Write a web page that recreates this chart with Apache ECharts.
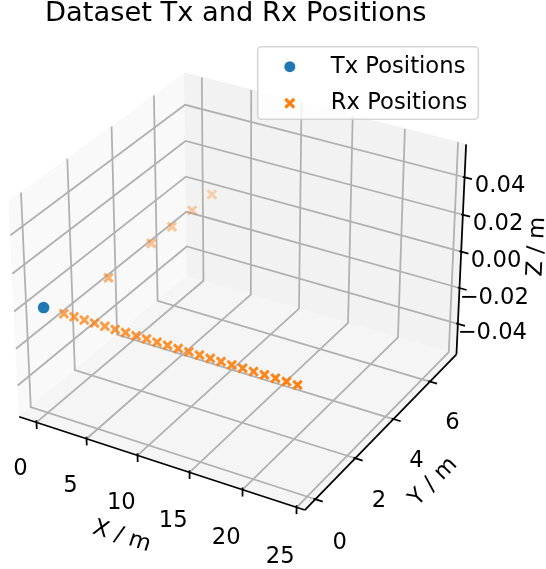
<!DOCTYPE html>
<html>
<head>
<meta charset="utf-8">
<script src="https://cdn.jsdelivr.net/npm/echarts@6/dist/echarts.min.js"></script>
<style>
  html, body { margin: 0; padding: 0; background: #fff; }
  #chart { width: 546px; height: 569px; }
</style>
</head>
<body>
<div id="chart"></div>
<script>
// ---- data ----
var txX = [0];
var txY = [0];
var txZ = [0];
var rxX = [2, 3, 4, 5, 6, 7, 8, 9, 10, 11, 12, 13, 14, 15, 16, 17, 18, 19, 20, 21, 22, 23, 24, 2, 2, 2, 2, 2];
var rxY = [0, 0, 0, 0, 0, 0, 0, 0, 0, 0, 0, 0, 0, 0, 0, 0, 0, 0, 0, 0, 0, 0, 0, 2, 4, 5, 6, 7];
var rxZ = [0, 0, 0, 0, 0, 0, 0, 0, 0, 0, 0, 0, 0, 0, 0, 0, 0, 0, 0, 0, 0, 0, 0, 0, 0, 0, 0, 0];

var xTicks = [0, 5, 10, 15, 20, 25];
var yTicks = [0, 2, 4, 6];
var zTicks = [-0.04, -0.02, 0, 0.02, 0.04];
var xTickLabels = ['0', '5', '10', '15', '20', '25'];
var yTickLabels = ['0', '2', '4', '6'];
var zTickLabels = ['\u22120.04', '\u22120.02', '0.00', '0.02', '0.04'];

// axis limits (autoscaled limits incl. margins)
var xLim = [-1.75, 25.75];
var yLim = [-0.5104, 7.5104];
var zLim = [-0.0573, 0.0573];

// ---- 3d view (elev 30, azim -60, perspective) ----
var D2R = Math.PI / 180;
var elev = 30 * D2R, azim = -60 * D2R, dist = 10;
var boxNorm = Math.sqrt(4 * 4 + 4 * 4 + 3 * 3);
var box = [4, 4, 3].map(function (a) { return a * 1.8294640721620434 * 25 / 24 / boxNorm; });

function dot(a, b) { return a[0] * b[0] + a[1] * b[1] + a[2] * b[2]; }
function cross(a, b) {
  return [a[1] * b[2] - a[2] * b[1], a[2] * b[0] - a[0] * b[2], a[0] * b[1] - a[1] * b[0]];
}
var viewW = [Math.cos(elev) * Math.cos(azim), Math.cos(elev) * Math.sin(azim), Math.sin(elev)];
var viewU = cross([0, 0, 1], viewW);
var uLen = Math.sqrt(dot(viewU, viewU));
viewU = viewU.map(function (c) { return c / uLen; });
var viewV = cross(viewW, viewU);

function project(x, y, z) {
  var p = [
    ((x - xLim[0]) / (xLim[1] - xLim[0]) - 0.5) * box[0],
    ((y - yLim[0]) / (yLim[1] - yLim[0]) - 0.5) * box[1],
    ((z - zLim[0]) / (zLim[1] - zLim[0]) - 0.5) * box[2]
  ];
  var depth = dist - dot(p, viewW);
  return [dot(p, viewU) / depth, dot(p, viewV) / depth, depth];
}
function pt(x, y, z) { var q = project(x, y, z); return [q[0], q[1]]; }

// 2d window of the 3d axes, placed on the page
var viewLim = [-0.095, 0.09];
var axBox = { left: -19.2, top: 33.7, size: 508.4 };
var W = 546, H = 569;
var perPx = (viewLim[1] - viewLim[0]) / axBox.size;
var xAxisMin = viewLim[0] - axBox.left * perPx;
var xAxisMax = xAxisMin + W * perPx;
var yAxisMax = viewLim[1] + axBox.top * perPx;
var yAxisMin = yAxisMax - H * perPx;

var x0 = xLim[0], x1 = xLim[1], y0 = yLim[0], y1 = yLim[1], z0 = zLim[0], z1 = zLim[1];
var xr = x1 - x0, yr = y1 - y0, zr = z1 - z0;

// panes
var panes = [
  { color: 'rgb(249,249,249)', pts: [pt(x0, y0, z0), pt(x0, y1, z0), pt(x0, y1, z1), pt(x0, y0, z1)] },
  { color: 'rgb(242,242,242)', pts: [pt(x0, y1, z0), pt(x1, y1, z0), pt(x1, y1, z1), pt(x0, y1, z1)] },
  { color: 'rgb(245,245,245)', pts: [pt(x0, y0, z0), pt(x1, y0, z0), pt(x1, y1, z0), pt(x0, y1, z0)] }
];

// grid lines
var gridLines = [];
xTicks.forEach(function (t) {
  gridLines.push({ coords: [pt(t, y0, z0), pt(t, y1, z0), pt(t, y1, z1)] });
});
yTicks.forEach(function (t) {
  gridLines.push({ coords: [pt(x1, t, z0), pt(x0, t, z0), pt(x0, t, z1)] });
});
zTicks.forEach(function (t) {
  gridLines.push({ coords: [pt(x0, y0, t), pt(x0, y1, t), pt(x1, y1, t)] });
});

// axis lines and tick marks
var axisLines = [
  { coords: [pt(x0, y0, z0), pt(x1, y0, z0)] },
  { coords: [pt(x1, y0, z0), pt(x1, y1, z0)] },
  { coords: [pt(x1, y1, z0), pt(x1, y1, z1)] }
];
xTicks.forEach(function (t) {
  axisLines.push({ coords: [pt(t, y0, z0 + 0.01 * zr), pt(t, y0, z0 - 0.032 * zr)] });
});
yTicks.forEach(function (t) {
  axisLines.push({ coords: [pt(x1 - 0.006 * xr, t, z0), pt(x1 + 0.025 * xr, t, z0)] });
});
zTicks.forEach(function (t) {
  axisLines.push({ coords: [pt(x1 - 0.006 * xr, y1, t), pt(x1 + 0.025 * xr, y1, t)] });
});

// texts
var FS = 22.7;
var texts = [];
xTicks.forEach(function (t, i) {
  texts.push({ p: pt(t, y0 - 0.096 * yr, z0 - 0.155 * zr), text: xTickLabels[i] });
});
yTicks.forEach(function (t, i) {
  texts.push({ p: pt(x1 + 0.084 * xr, t, z0 - 0.17 * zr), text: yTickLabels[i] });
});
zTicks.forEach(function (t, i) {
  texts.push({ p: pt(x1 + 0.12 * xr, y1, t), text: zTickLabels[i] });
});
texts.push({ p: pt((x0 + x1) / 2, y0 - 0.21 * yr, z0 - 0.19 * zr), text: 'X / m',
  along: [pt(x0, y0, z0), pt(x1, y0, z0)] });
texts.push({ p: pt(x1 + 0.173 * xr, (y0 + y1) / 2, z0 - 0.182 * zr), text: 'Y / m',
  along: [pt(x1, y0, z0), pt(x1, y1, z0)] });
texts.push({ p: pt(x1 + 0.191 * xr, y1 + 0.147 * yr, (z0 + z1) / 2), text: 'Z / m',
  along: [pt(x1, y1, z0), pt(x1, y1, z1)] });

// scatter points, depth shaded like matplotlib
function shaded(xs, ys, zs) {
  var items = xs.map(function (x, i) {
    var q = project(x, ys[i], zs[i]);
    return { value: [q[0], q[1]], depth: q[2] };
  });
  var qs = items.map(function (d) { return -1 / d.depth; });
  var qmin = Math.min.apply(null, qs), qmax = Math.max.apply(null, qs);
  items.forEach(function (d, i) {
    var n = qmax > qmin ? (qs[i] - qmin) / (qmax - qmin) : 0;
    d.itemStyle = { opacity: 1 - 0.7 * n };
  });
  items.sort(function (a, b) { return b.depth - a.depth; });
  return items.map(function (d) { return { value: d.value, itemStyle: d.itemStyle }; });
}

var xMark = 'path://M2,0L5,3L8,0L10,2L7,5L10,8L8,10L5,7L2,10L0,8L3,5L0,2Z';

var chart = echarts.init(document.getElementById('chart'));
chart.setOption({
  animation: false,
  backgroundColor: '#fff',
  title: {
    text: 'Dataset Tx and Rx Positions',
    left: 45,
    top: 0,
    padding: 0,
    textStyle: { fontSize: 27.3, fontWeight: 'normal', fontFamily: 'DejaVu Sans', color: '#000' }
  },
  legend: {
    orient: 'vertical',
    left: 284.3,
    top: 55.2,
    padding: 0,
    itemWidth: 72,
    itemHeight: 11,
    itemGap: 13.5,
    selectedMode: false,
    textStyle: { fontSize: FS, fontFamily: 'DejaVu Sans', color: '#000' },
    data: [
      { name: 'Tx Positions', icon: 'circle' },
      { name: 'Rx Positions', icon: xMark }
    ]
  },
  graphic: [{
    type: 'rect',
    z: 3,
    silent: true,
    shape: { x: 257.7, y: 46.7, width: 220.6, height: 72.6, r: 4 },
    style: { fill: 'rgba(255,255,255,0.8)', stroke: 'rgba(204,204,204,0.8)', lineWidth: 1.6 }
  }],
  grid: { left: 0, right: 0, top: 0, bottom: 0 },
  xAxis: { type: 'value', min: xAxisMin, max: xAxisMax, show: false },
  yAxis: { type: 'value', min: yAxisMin, max: yAxisMax, show: false },
  series: [
    {
      type: 'custom',
      silent: true,
      data: panes.map(function (p) { return p.pts[0]; }),
      renderItem: function (params, api) {
        var pane = panes[params.dataIndex];
        return {
          type: 'polygon',
          shape: { points: pane.pts.map(function (q) { return api.coord(q); }) },
          style: { fill: pane.color, stroke: pane.color, lineWidth: 1 }
        };
      }
    },
    {
      type: 'lines',
      coordinateSystem: 'cartesian2d',
      polyline: true,
      silent: true,
      lineStyle: { color: '#b0b0b0', width: 1.76, opacity: 1 },
      data: gridLines
    },
    {
      type: 'lines',
      coordinateSystem: 'cartesian2d',
      polyline: true,
      silent: true,
      lineStyle: { color: '#000', width: 1.76, opacity: 1 },
      data: axisLines
    },
    {
      name: 'Tx Positions',
      type: 'scatter',
      silent: true,
      symbol: 'circle',
      symbolSize: 11.5,
      itemStyle: { color: '#1f77b4', opacity: 1 },
      data: shaded(txX, txY, txZ)
    },
    {
      name: 'Rx Positions',
      type: 'scatter',
      silent: true,
      symbol: xMark,
      symbolSize: 10.5,
      itemStyle: { color: '#ff7f0e', opacity: 1 },
      data: shaded(rxX, rxY, rxZ)
    },
    {
      type: 'custom',
      silent: true,
      data: texts.map(function (t) { return t.p; }),
      renderItem: function (params, api) {
        var t = texts[params.dataIndex];
        var c = api.coord(t.p);
        var rot = 0;
        if (t.along) {
          var a = api.coord(t.along[0]), b = api.coord(t.along[1]);
          var ang = Math.atan2(-(b[1] - a[1]), b[0] - a[0]) / D2R;
          if (ang > 90) ang -= 180;
          if (ang <= -90) ang += 180;
          rot = ang * D2R;
        }
        return {
          type: 'text',
          x: c[0],
          y: c[1],
          rotation: rot,
          style: {
            text: t.text,
            fontSize: FS,
            fontFamily: 'DejaVu Sans',
            fill: '#000',
            align: 'center',
            verticalAlign: 'middle'
          }
        };
      }
    }
  ]
});
</script>
</body>
</html>
